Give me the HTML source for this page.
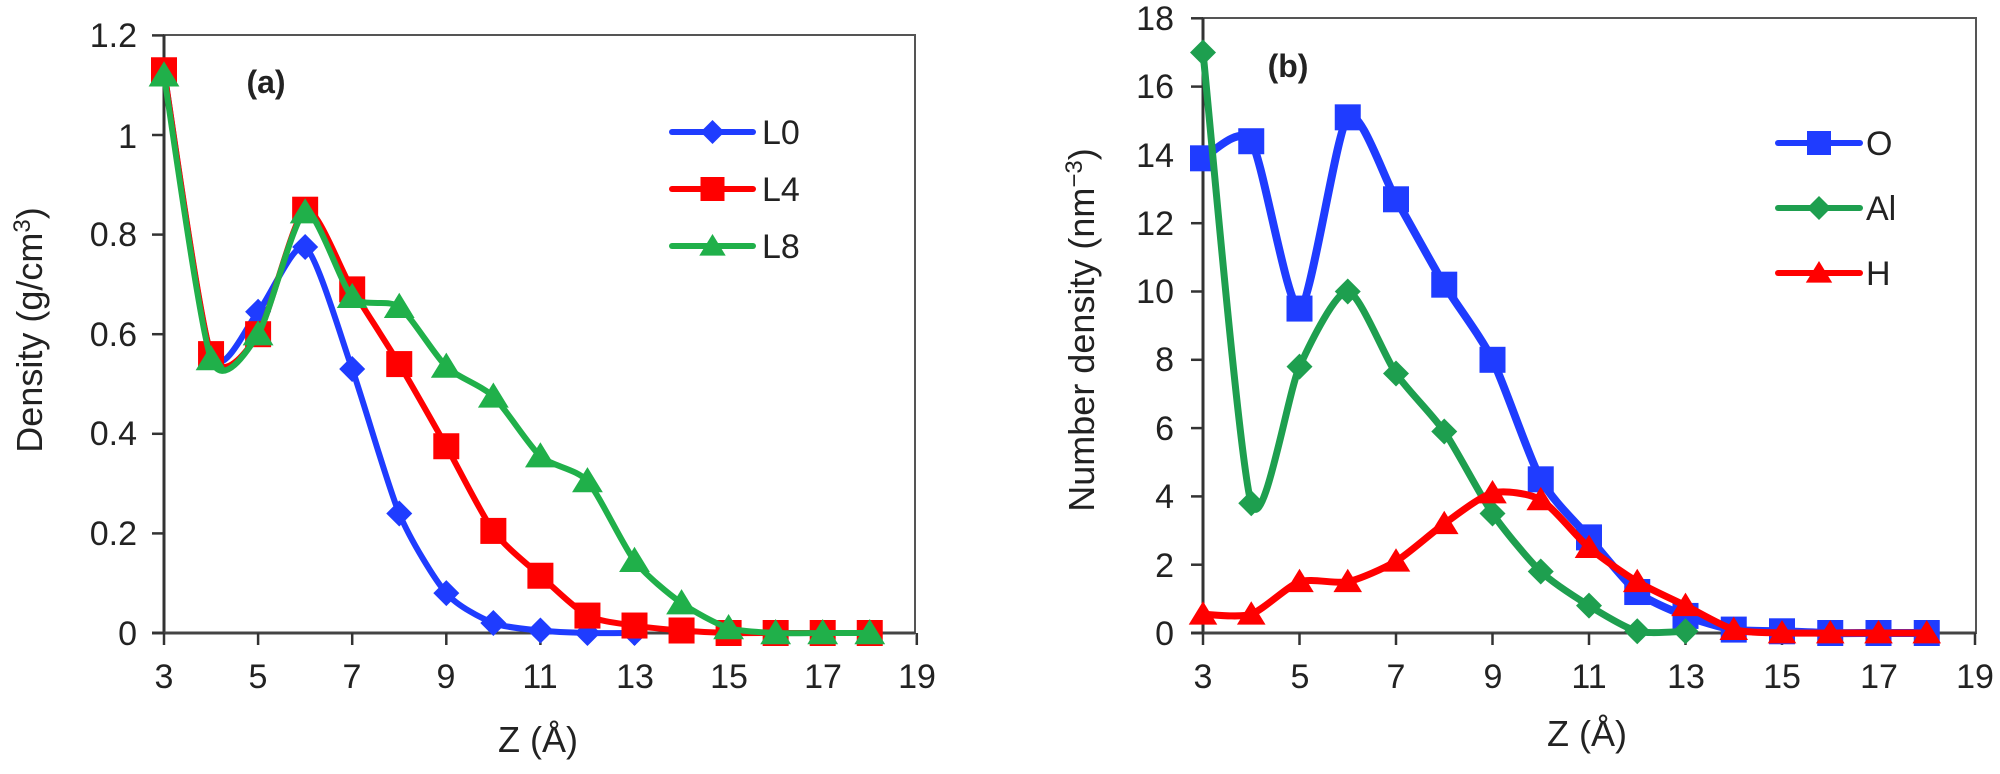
<!DOCTYPE html>
<html><head><meta charset="utf-8"><style>
html,body{margin:0;padding:0;background:#fff;}
svg{display:block;}
text{font-family:"Liberation Sans",sans-serif;fill:#222;}
</style></head><body>
<svg id="s" width="2000" height="774" viewBox="0 0 2000 774" xmlns="http://www.w3.org/2000/svg">
<rect x="164" y="35" width="751" height="598" fill="none" stroke="#555" stroke-width="2"/>
<line x1="164" y1="35" x2="164" y2="633" stroke="#333" stroke-width="3"/>
<line x1="152" y1="633" x2="915" y2="633" stroke="#444" stroke-width="3"/>
<rect x="1203" y="18" width="773" height="615" fill="none" stroke="#555" stroke-width="2"/>
<line x1="1203" y1="18" x2="1203" y2="633" stroke="#333" stroke-width="3"/>
<line x1="1191" y1="633" x2="1976" y2="633" stroke="#444" stroke-width="3"/>
<g id="ticks" stroke="#333" stroke-width="2.5"></g>
<g font-size="34" text-anchor="end">
<text x="137" y="47">1.2</text><text x="137" y="148">1</text><text x="137" y="246">0.8</text>
<text x="137" y="346">0.6</text><text x="137" y="445">0.4</text><text x="137" y="545">0.2</text><text x="137" y="645">0</text>
<text x="1174" y="30">18</text><text x="1174" y="98">16</text><text x="1174" y="167">14</text><text x="1174" y="235">12</text>
<text x="1174" y="303">10</text><text x="1174" y="371">8</text><text x="1174" y="440">6</text><text x="1174" y="508">4</text>
<text x="1174" y="577">2</text><text x="1174" y="645">0</text>
</g>
<g font-size="34" text-anchor="middle">
<text x="164" y="688">3</text><text x="258" y="688">5</text><text x="352" y="688">7</text><text x="446" y="688">9</text>
<text x="540" y="688">11</text><text x="635" y="688">13</text><text x="729" y="688">15</text><text x="823" y="688">17</text><text x="917" y="688">19</text>
<text x="1203" y="688">3</text><text x="1300" y="688">5</text><text x="1396" y="688">7</text><text x="1493" y="688">9</text>
<text x="1589" y="688">11</text><text x="1686" y="688">13</text><text x="1782" y="688">15</text><text x="1879" y="688">17</text><text x="1975" y="688">19</text>
<text x="538" y="752" font-size="36">Z (Å)</text>
<text x="1587" y="746" font-size="36">Z (Å)</text>
<text transform="translate(42,330) rotate(-90)" font-size="36">Density (g/cm<tspan font-size="24" dy="-12">3</tspan><tspan dy="12">)</tspan></text>
<text transform="translate(1094,330) rotate(-90)" font-size="36">Number density (nm<tspan font-size="24" dy="-12">−3</tspan><tspan dy="12">)</tspan></text>
<text x="266" y="93" font-size="32" font-weight="bold">(a)</text>
<text x="1288" y="77" font-size="32" font-weight="bold">(b)</text>
</g>
<g id="series"></g>
<g font-size="34">
<text x="762" y="144">L0</text><text x="762" y="201">L4</text><text x="762" y="258">L8</text>
<text x="1866" y="155">O</text><text x="1866" y="220">Al</text><text x="1866" y="285">H</text>
</g>
</svg>
<script>
var NS="http://www.w3.org/2000/svg",S=document.getElementById('series'),T=document.getElementById('ticks');
function el(t,a,p){var e=document.createElementNS(NS,t);for(var k in a)e.setAttribute(k,a[k]);(p||S).appendChild(e);return e;}
for(var i=0;i<=6;i++){var y=633-i*99.6;el('line',{x1:152,y1:y,x2:164,y2:y},T);}
for(var i=0;i<=8;i++){var x=164+i*94.1;el('line',{x1:x,y1:633,x2:x,y2:645},T);}
for(var i=0;i<=9;i++){var y=633-i*68.3;el('line',{x1:1191,y1:y,x2:1203,y2:y},T);}
for(var i=0;i<=8;i++){var x=1203+i*96.5;el('line',{x1:x,y1:633,x2:x,y2:645},T);}
function path(pts){var d='M'+pts[0][0]+','+pts[0][1];
 for(var i=0;i<pts.length-1;i++){var p0=pts[i-1]||pts[i],p1=pts[i],p2=pts[i+1],p3=pts[i+2]||p2,t=0.12;
 d+=' C'+(p1[0]+(p2[0]-p0[0])*t)+','+(p1[1]+(p2[1]-p0[1])*t)+' '+(p2[0]-(p3[0]-p1[0])*t)+','+(p2[1]-(p3[1]-p1[1])*t)+' '+p2[0]+','+p2[1];}
 return d;}
function marker(type,x,y,c,s){
 if(type=='sq')el('rect',{x:x-s,y:y-s,width:2*s,height:2*s,fill:c});
 else if(type=='di')el('polygon',{points:[x,y-s,x+s,y,x,y+s,x-s,y].join(' '),fill:c});
 else el('polygon',{points:[x,y-s,x+s*1.1,y+s*0.8,x-s*1.1,y+s*0.8].join(' '),fill:c});}
function series(xs,ys,fx,fy,c,w,type,ms){var pts=xs.map(function(x,i){return[fx(x),fy(ys[i])];});
 el('path',{d:path(pts),fill:'none',stroke:c,'stroke-width':w,'stroke-linejoin':'round'});
 pts.forEach(function(p){marker(type,p[0],p[1],c,ms);});}
function legend(x1,x2,y,c,type,ms){el('line',{x1:x1,y1:y,x2:x2,y2:y,stroke:c,'stroke-width':6,'stroke-linecap':'round'});marker(type,(x1+x2)/2,y,c,ms);}
var ax=function(z){return 164+(z-3)*47.05;},ay=function(v){return 633-v*498;};
var bx=function(z){return 1203+(z-3)*48.25;},by=function(v){return 633-v*34.15;};
var B='#1f3cff',R='#ff0000',G='#20b04a',G2='#1e9f4f';
series([3,4,5,6,7,8,9,10,11,12,13],[1.13,0.56,0.645,0.775,0.53,0.24,0.08,0.02,0.005,0,0],ax,ay,B,6,'di',13);
series([3,4,5,6,7,8,9,10,11,12,13,14,15,16,17,18],[1.13,0.56,0.6,0.85,0.69,0.54,0.375,0.205,0.115,0.035,0.015,0.005,0,0,0,0],ax,ay,R,6,'sq',13);
series([3,4,5,6,7,8,9,10,11,12,13,14,15,16,17,18],[1.12,0.55,0.6,0.845,0.675,0.655,0.535,0.475,0.355,0.305,0.145,0.06,0.01,0,0,0],ax,ay,G,6,'tr',14);
series([3,4,5,6,7,8,9,10,11,12,13,14,15,16,17,18],[13.9,14.4,9.5,15.1,12.7,10.2,8.0,4.5,2.8,1.2,0.5,0.1,0.05,0,0,0],bx,by,B,8,'sq',13);
series([3,4,5,6,7,8,9,10,11,12,13],[17,3.8,7.8,10,7.6,5.9,3.5,1.8,0.8,0.05,0.05],bx,by,G2,7,'di',13);
series([3,4,5,6,7,8,9,10,11,12,13,14,15,16,17,18],[0.55,0.55,1.5,1.5,2.1,3.2,4.1,3.9,2.5,1.5,0.8,0.1,0,0,0,0],bx,by,R,7,'tr',13);
legend(672,753,132,B,'di',12);legend(672,753,189,R,'sq',12);legend(672,753,246,G,'tr',12);
legend(1778,1860,143,B,'sq',12);legend(1778,1860,208,G2,'di',12);legend(1778,1860,273,R,'tr',12);
</script>
</body></html>
